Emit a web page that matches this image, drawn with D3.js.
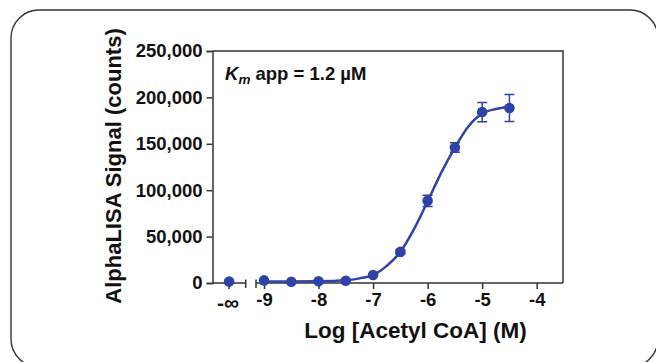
<!DOCTYPE html>
<html><head><meta charset="utf-8">
<script src="https://cdn.jsdelivr.net/npm/d3@7/dist/d3.min.js"></script>
<style>html,body{margin:0;padding:0;background:#fff;overflow:hidden}</style>
</head><body>
<svg id="c" width="656" height="362"></svg>
<script>
// ---- data ----
const xTickValues = [-9, -8, -7, -6, -5, -4];
const xTickLabels = ["-9", "-8", "-7", "-6", "-5", "-4"];
const zeroLabel = "-∞";
const yTickValues = [0, 50000, 100000, 150000, 200000, 250000];
const zeroSignal = 1500;
const logConc = [-9, -8.5, -8, -7.5, -7, -6.5, -6, -5.5, -5, -4.5];
const signal  = [2800, 1400, 1900, 2500, 8600, 33500, 88500, 146000, 184200, 188500];
const sem     = [0, 0, 0, 0, 500, 2000, 6000, 5000, 10400, 14500];
const fitLogConc = [-9, -8.5, -8, -7.5, -7.25, -7, -6.75, -6.5, -6.25, -6, -5.75, -5.5, -5.25, -5, -4.75, -4.5];
const fitSignal  = [1700, 1700, 1900, 3000, 5000, 8600, 18500, 33500, 58000, 88000, 119000, 146000, 169000, 182500, 187500, 190000];
const annotation = {k: "K", sub: "m", rest: " app = 1.2 µM"};
const xTitle = "Log [Acetyl CoA] (M)";
const yTitle = "AlphaLISA Signal (counts)";

const blue = "#2e43a5", axisCol = "#333";
const font = "'Liberation Sans', Arial, sans-serif";
const svg = d3.select("#c");

// card border
svg.append("rect").attr("x", 11).attr("y", 10).attr("width", 647).attr("height", 357)
  .attr("rx", 28).attr("fill", "none").attr("stroke", "#333").attr("stroke-width", 1.4);

const plotL = 212.5, plotR = 563, plotT = 51, plotB = 283;
const x = d3.scaleLinear().domain([-9, -4]).range([264, 536.7]);
const xZero = d3.scalePoint().domain([zeroLabel]).range([plotL, 245.7]).padding(0.5);
const y = d3.scaleLinear().domain([0, 250000]).range([plotB, plotT]);
const segStart = 256;
const tickFont = 18.5;

// frame: top and right
svg.append("path").attr("d", `M${plotL},${plotT}H${plotR}V${plotB}`)
  .attr("fill", "none").attr("stroke", axisCol).attr("stroke-width", 1.5);

// y axis
const gy = svg.append("g").attr("transform", `translate(${plotL},0)`)
  .call(d3.axisLeft(y).tickValues(yTickValues).tickFormat(d3.format(",")).tickSize(6).tickPadding(4));
gy.select(".domain").attr("stroke", axisCol).attr("stroke-width", 1.5);
gy.selectAll(".tick line").attr("stroke", axisCol).attr("stroke-width", 1.5);
gy.selectAll("text").attr("font-family", font).attr("font-weight", "bold").attr("font-size", tickFont).attr("fill", "#111");

// x axis: zero segment
const gz = svg.append("g").attr("transform", `translate(0,${plotB})`);
gz.append("path").attr("d", `M${plotL},0H${xZero.range()[1]}M${xZero.range()[1]},-3.5V5`)
  .attr("stroke", axisCol).attr("stroke-width", 1.5).attr("fill", "none");
gz.append("line").attr("x1", xZero(zeroLabel)).attr("x2", xZero(zeroLabel)).attr("y1", 0).attr("y2", 6)
  .attr("stroke", axisCol).attr("stroke-width", 1.5);
gz.append("text").attr("x", xZero(zeroLabel) - 1).attr("y", 27).attr("text-anchor", "middle")
  .attr("font-family", font).attr("font-weight", "bold").attr("font-size", 21).attr("fill", "#111").text(zeroLabel);

// x axis: main segment
const gx = svg.append("g").attr("transform", `translate(0,${plotB})`)
  .call(d3.axisBottom(x).tickValues(xTickValues).tickFormat((d, i) => xTickLabels[i]).tickSize(6).tickPadding(4).tickSizeOuter(0));
gx.select(".domain").attr("d", `M${segStart},0H${plotR}`).attr("stroke", axisCol).attr("stroke-width", 1.5);
gx.append("path").attr("d", `M${segStart},-3.5V5`).attr("stroke", axisCol).attr("stroke-width", 1.5);
gx.selectAll(".tick line").attr("stroke", axisCol).attr("stroke-width", 1.5);
gx.selectAll("text").attr("font-family", font).attr("font-weight", "bold").attr("font-size", tickFont).attr("fill", "#111");

// fit curve
const line = d3.line().x((d, i) => x(fitLogConc[i])).y(d => y(d)).curve(d3.curveMonotoneX);
svg.append("path").attr("d", line(fitSignal)).attr("fill", "none").attr("stroke", blue).attr("stroke-width", 2.5);

// error bars
const eb = svg.append("g").attr("stroke", blue).attr("stroke-width", 1.5).attr("fill", "none");
logConc.forEach((c, i) => {
  if (sem[i] <= 0) return;
  const cx = x(c), y1 = y(signal[i] + sem[i]), y2 = y(signal[i] - sem[i]);
  eb.append("path").attr("d", `M${cx},${y1}V${y2}M${cx - 5},${y1}H${cx + 5}M${cx - 5},${y2}H${cx + 5}`);
});

// points
svg.append("g").selectAll("circle").data(signal).join("circle")
  .attr("cx", (d, i) => x(logConc[i])).attr("cy", d => y(d)).attr("r", 5.3).attr("fill", blue);
svg.append("circle").attr("cx", xZero(zeroLabel)).attr("cy", y(zeroSignal)).attr("r", 5.3).attr("fill", blue);

// annotation
const t = svg.append("text").attr("x", 225).attr("y", 80).attr("font-family", font)
  .attr("font-weight", "bold").attr("font-size", 18.5).attr("fill", "#111");
t.append("tspan").attr("font-style", "italic").text(annotation.k);
t.append("tspan").attr("font-style", "italic").attr("font-size", 13.5).attr("dy", 4).text(annotation.sub);
t.append("tspan").attr("dy", -4).text(annotation.rest);

// titles
svg.append("text").attr("x", 415.5).attr("y", 338).attr("text-anchor", "middle")
  .attr("font-family", font).attr("font-weight", "bold").attr("font-size", 22.5).attr("fill", "#111").text(xTitle);
svg.append("text").attr("transform", "translate(121,166) rotate(-90)").attr("text-anchor", "middle")
  .attr("font-family", font).attr("font-weight", "bold").attr("font-size", 22).attr("fill", "#111").text(yTitle);
</script>
</body></html>
